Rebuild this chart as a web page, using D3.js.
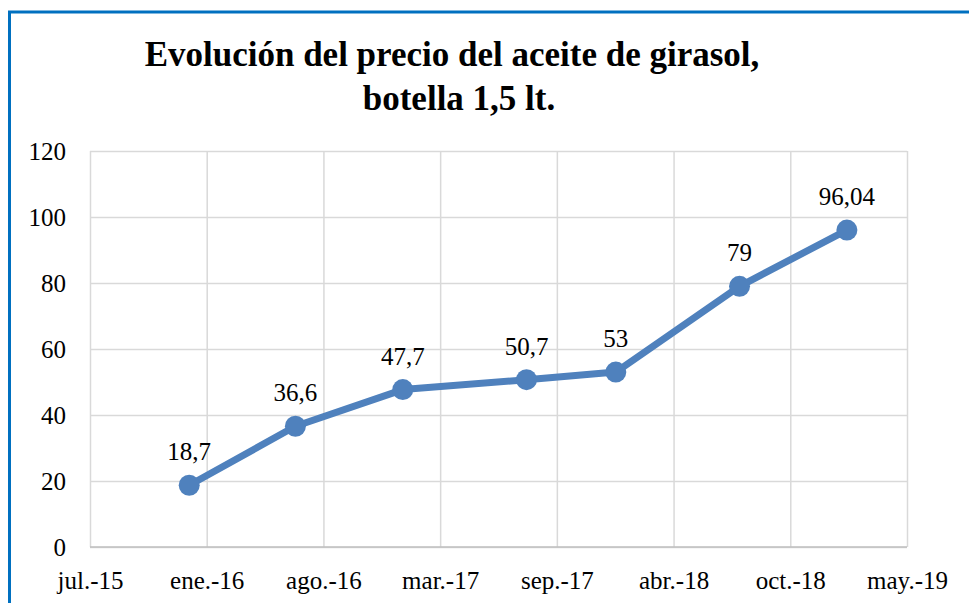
<!DOCTYPE html>
<html>
<head>
<meta charset="utf-8">
<script src="https://cdn.jsdelivr.net/npm/d3@7"></script>
</head>
<body style="margin:0;padding:0;background:#fff">
<div id="wrap"></div>
<script>
// ---- data ----
const dates = ["2016-01-01", "2016-07-01", "2017-01-01", "2017-08-01", "2018-01-01", "2018-08-01", "2019-02-01"];
const prices = [18.7, 36.6, 47.7, 50.7, 53, 79, 96.04];
const valueLabels = ["18,7", "36,6", "47,7", "50,7", "53", "79", "96,04"];
const xTickLabels = ["jul.-15", "ene.-16", "ago.-16", "mar.-17", "sep.-17", "abr.-18", "oct.-18", "may.-19"];
const yTicks = [0, 20, 40, 60, 80, 100, 120];
const titleLines = ["Evolución del precio del aceite de girasol,", "botella 1,5 lt."];
const axisStart = "2015-07-15";
const axisStepDays = 200;

// ---- layout ----
const W = 969, H = 603;
const svg = d3.select("#wrap").append("svg").attr("width", W).attr("height", H).style("display", "block");
const m = { left: 90, right: 907, top: 151, bottom: 547 };
const parse = d3.timeParse("%Y-%m-%d");
const start = parse(axisStart);
const tickDates = xTickLabels.map((_, i) => d3.timeDay.offset(start, i * axisStepDays));

const x = d3.scaleTime().domain([tickDates[0], tickDates[tickDates.length - 1]]).range([m.left, m.right]);
const y = d3.scaleLinear().domain([0, 120]).range([m.bottom, m.top]);

function serif(sel, fam, size, bold) {
  sel.style("font-family", fam, "important").style("font-size", size + "px", "important")
     .style("font-weight", bold ? "bold" : "normal").style("fill", "#000");
}

svg.append("rect").attr("width", W).attr("height", H).attr("fill", "#fff");

// border
svg.append("rect").attr("x", 9.5).attr("y", 12).attr("width", W + 20).attr("height", H + 20)
  .attr("fill", "none").attr("stroke", "#0070c0").attr("stroke-width", 3);

// title
titleLines.forEach((t, i) => {
  svg.append("text").attr("x", i === 0 ? 452 : 459).attr("y", 66 + i * 44).attr("text-anchor", "middle")
    .call(serif, '"Liberation Serif"', 35, true).text(t);
});

// gridlines horizontal + y labels
const yAxis = d3.axisLeft(y).tickValues(yTicks).tickSize(-(m.right - m.left)).tickFormat(d => d);
const gy = svg.append("g").attr("transform", `translate(${m.left},0)`).call(yAxis);
gy.select(".domain").remove();
gy.selectAll(".tick line").attr("stroke", "#d9d9d9").attr("stroke-width", 1.5);
gy.selectAll(".tick text").attr("x", -24).attr("dy", "0.35em").call(serif, '"Tinos"', 25, false);

// gridlines vertical + x labels
const xAxis = d3.axisBottom(x).tickValues(tickDates).tickSize(-(m.bottom - m.top))
  .tickFormat((d, i) => xTickLabels[i]);
const gx = svg.append("g").attr("transform", `translate(0,${m.bottom})`).call(xAxis);
gx.select(".domain").remove();
gx.selectAll(".tick line").attr("stroke", "#d9d9d9").attr("stroke-width", 1.5);
gx.selectAll(".tick text").attr("y", 24).attr("dy", "0.71em").call(serif, '"Times New Roman"', 25, false);

// category axis line
svg.append("line").attr("x1", m.left).attr("x2", m.right).attr("y1", m.bottom).attr("y2", m.bottom)
  .attr("stroke", "#bfbfbf").attr("stroke-width", 1.5);

// series
const pts = dates.map((d, i) => ({ date: parse(d), v: prices[i], label: valueLabels[i] }));
const line = d3.line().x(d => x(d.date)).y(d => y(d.v));
svg.append("path").datum(pts).attr("d", line).attr("fill", "none")
  .attr("stroke", "#4f81bd").attr("stroke-width", 7).attr("stroke-linejoin", "round");
svg.selectAll("circle.pt").data(pts).enter().append("circle").attr("class", "pt")
  .attr("cx", d => x(d.date)).attr("cy", d => y(d.v)).attr("r", 10.5).attr("fill", "#4f81bd");

// value labels
svg.selectAll("text.vl").data(pts).enter().append("text").attr("class", "vl")
  .attr("x", d => x(d.date)).attr("y", d => y(d.v) - 25).attr("text-anchor", "middle")
  .call(serif, '"Liberation Serif"', 25, false).text(d => d.label);
</script>
</body>
</html>
